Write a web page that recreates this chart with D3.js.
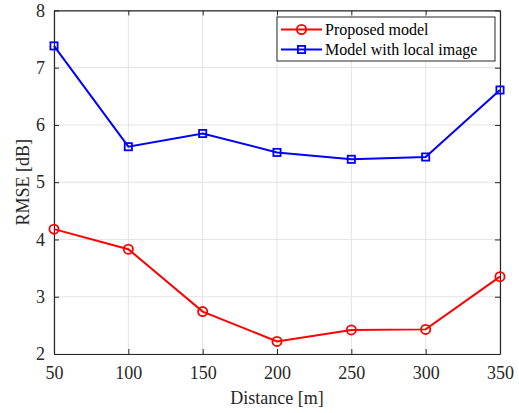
<!DOCTYPE html>
<html>
<head>
<meta charset="utf-8">
<script src="https://cdn.jsdelivr.net/npm/d3@7"></script>
<style>
  body { margin: 0; background: #fff; }
  svg { display: block; font-family: "Liberation Serif", "Times New Roman", serif; }
</style>
</head>
<body>
<div id="chart"></div>
<script>
// data
const distances = [50, 100, 150, 200, 250, 300, 350]
const proposedModel = [4.18, 3.83, 2.74, 2.22, 2.42, 2.43, 3.35]
const localImageModel = [7.38, 5.62, 5.85, 5.52, 5.40, 5.44, 6.61]
const xTicks = [50, 100, 150, 200, 250, 300, 350]
const yTicks = [2, 3, 4, 5, 6, 7, 8]

const series = [
  { name: "Proposed model", values: proposedModel, color: "#ff0000", marker: "circle" },
  { name: "Model with local image", values: localImageModel, color: "#0000ff", marker: "square" },
]

// dimensions
const dimensions = {
  width: 519,
  height: 413,
  margin: { top: 10.4, right: 19, bottom: 59, left: 54 }
}
dimensions.boundedWidth = dimensions.width - dimensions.margin.left - dimensions.margin.right
dimensions.boundedHeight = dimensions.height - dimensions.margin.top - dimensions.margin.bottom

const wrapper = d3.select("#chart")
  .append("svg")
  .attr("width", dimensions.width)
  .attr("height", dimensions.height)

const bounds = wrapper.append("g")
  .attr("transform", `translate(${dimensions.margin.left},${dimensions.margin.top})`)

// scales
const xScale = d3.scaleLinear()
  .domain([50, 350])
  .range([0, dimensions.boundedWidth])
const yScale = d3.scaleLinear()
  .domain([2, 8])
  .range([dimensions.boundedHeight, 0])

// grid
bounds.append("g")
  .selectAll("line")
  .data(xTicks)
  .join("line")
  .attr("x1", d => xScale(d)).attr("x2", d => xScale(d))
  .attr("y1", 0).attr("y2", dimensions.boundedHeight)
  .attr("stroke", "#e3e3e3").attr("stroke-width", 1)
bounds.append("g")
  .selectAll("line")
  .data(yTicks)
  .join("line")
  .attr("y1", d => yScale(d)).attr("y2", d => yScale(d))
  .attr("x1", 0).attr("x2", dimensions.boundedWidth)
  .attr("stroke", "#e3e3e3").attr("stroke-width", 1)

// axes (ticks inside, matlab style)
const axisColor = "#262626"
const tickLen = 5
const fontStack = "'Liberation Serif', 'Times New Roman', serif"
function styleAxis(g) {
  g.attr("font-family", fontStack).attr("font-size", 18)
  g.select(".domain").attr("stroke", axisColor).attr("stroke-width", 1.2)
  g.selectAll(".tick line").attr("stroke", axisColor).attr("stroke-width", 1)
  g.selectAll(".tick text").attr("fill", axisColor)
}

const xAxis = bounds.append("g")
  .attr("transform", `translate(0,${dimensions.boundedHeight})`)
  .call(d3.axisBottom(xScale).tickValues(xTicks).tickFormat(d3.format("d"))
    .tickSize(-tickLen).tickSizeOuter(0).tickPadding(12))
  .call(styleAxis)
const xAxisTop = bounds.append("g")
  .call(d3.axisTop(xScale).tickValues(xTicks).tickSize(-tickLen).tickSizeOuter(0).tickFormat(""))
  .call(styleAxis)
const yAxis = bounds.append("g")
  .call(d3.axisLeft(yScale).tickValues(yTicks).tickFormat(d3.format("d"))
    .tickSize(-tickLen).tickSizeOuter(0).tickPadding(9))
  .call(styleAxis)
const yAxisRight = bounds.append("g")
  .attr("transform", `translate(${dimensions.boundedWidth},0)`)
  .call(d3.axisRight(yScale).tickValues(yTicks).tickSize(-tickLen).tickSizeOuter(0).tickFormat(""))
  .call(styleAxis)

// axis labels
bounds.append("text")
  .attr("x", dimensions.boundedWidth / 2)
  .attr("y", dimensions.boundedHeight + 50)
  .attr("text-anchor", "middle")
  .attr("fill", axisColor)
  .attr("font-family", fontStack)
  .attr("font-size", 18)
  .text("Distance [m]")
bounds.append("text")
  .attr("transform", `translate(${-dimensions.margin.left + 29},${dimensions.boundedHeight / 2}) rotate(-90)`)
  .attr("text-anchor", "middle")
  .attr("fill", axisColor)
  .attr("font-family", fontStack)
  .attr("font-size", 18)
  .text("RMSE [dB]")

// lines + markers
const lineGen = d3.line()
  .x((d, i) => xScale(distances[i]))
  .y(d => yScale(d))

function drawMarker(g, type, color, x, y) {
  if (type === "circle") {
    g.append("circle")
      .attr("cx", x).attr("cy", y).attr("r", 4.6)
      .attr("fill", "none").attr("stroke", color).attr("stroke-width", 1.8)
  } else {
    g.append("rect")
      .attr("x", x - 3.6).attr("y", y - 3.6)
      .attr("width", 7.2).attr("height", 7.2)
      .attr("fill", "none").attr("stroke", color).attr("stroke-width", 1.8)
  }
}

series.forEach(s => {
  const g = bounds.append("g")
  g.append("path")
    .attr("d", lineGen(s.values))
    .attr("fill", "none")
    .attr("stroke", s.color)
    .attr("stroke-width", 2)
  s.values.forEach((v, i) => drawMarker(g, s.marker, s.color, xScale(distances[i]), yScale(v)))
})

// legend
const legend = wrapper.append("g")
  .attr("transform", "translate(277,17)")
legend.append("rect")
  .attr("width", 218).attr("height", 44)
  .attr("fill", "#fff").attr("stroke", axisColor).attr("stroke-width", 1)
series.forEach((s, i) => {
  const y = 12.5 + 20 * i
  legend.append("line")
    .attr("x1", 4).attr("x2", 45).attr("y1", y).attr("y2", y)
    .attr("stroke", s.color).attr("stroke-width", 2)
  drawMarker(legend, s.marker, s.color, 24.5, y)
  legend.append("text")
    .attr("x", 48).attr("y", y + 5.5)
    .attr("fill", "#000")
    .attr("font-family", fontStack)
    .attr("font-size", 16)
    .text(s.name)
})
</script>
</body>
</html>
